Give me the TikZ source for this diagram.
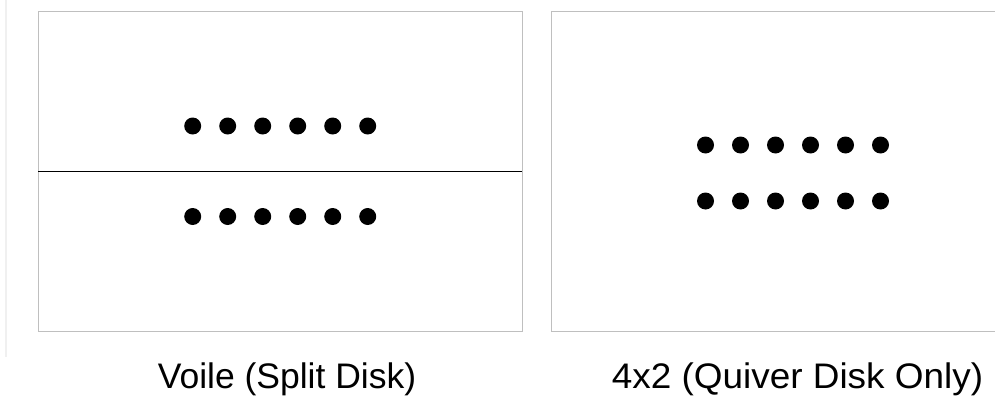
\documentclass[tikz,border=0pt]{standalone}
\usepackage{fontspec}
\setmainfont{Liberation Sans}
\begin{document}
\begin{tikzpicture}[x=1pt,y=-1pt,
  frame/.style={draw=black!25,line width=1pt},
  dot/.style={circle,fill=black,inner sep=0pt,minimum size=17pt},
  captext/.style={anchor=base,font=\fontsize{35.5}{42}\selectfont}]
\useasboundingbox (0,0) rectangle (995,396);
\fill[white] (0,0) rectangle (995,396);
% faint left rule
\draw[black!6,line width=2pt] (6,0) -- (6,357);
% left panel
\draw[frame] (38,12) rectangle (522,331);
\draw[black,line width=1.3pt] (38,171.5) -- (522,171.5);
\foreach \i in {0,...,5}{
  \node[dot] (lt\i) at ({192.7+35*\i},126) {};
  \node[dot] (lb\i) at ({192.7+35*\i},216.5) {};
}
% right panel (cut off at the right edge)
\draw[frame] (995,12) -- (551,12) -- (551,331) -- (995,331);
\foreach \i in {0,...,5}{
  \node[dot] (rt\i) at ({705.5+35*\i},145) {};
  \node[dot] (rb\i) at ({705.5+35*\i},201) {};
}
\node[captext] (capl) at (287,388) {Voile (Split Disk)};
\node[captext,xscale=1.04] (capr) at (797.5,388) {4x2 (Quiver Disk Only)};
\end{tikzpicture}
\end{document}
